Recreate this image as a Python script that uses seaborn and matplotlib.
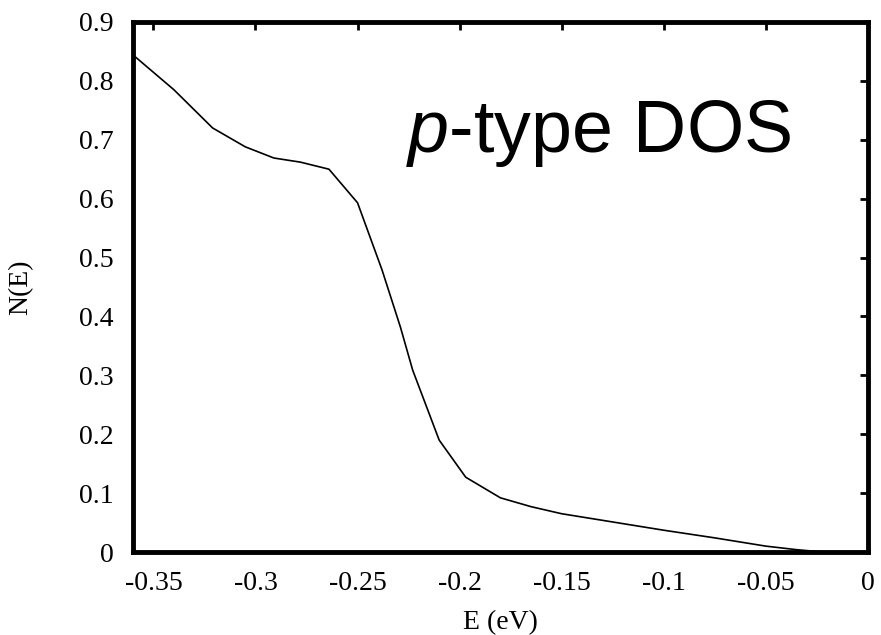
import numpy as np
import pandas as pd
import matplotlib
matplotlib.use("Agg")
import matplotlib.pyplot as plt
import seaborn as sns

# energy (eV) and density of states
energy = [-0.36, -0.340, -0.321, -0.305, -0.291, -0.278, -0.264, -0.250, -0.238,
          -0.229, -0.223, -0.210, -0.197, -0.180, -0.165, -0.150, -0.125,
          -0.100, -0.075, -0.050, -0.035, -0.022, 0.0]
dos = [0.844, 0.785, 0.720, 0.688, 0.669, 0.662, 0.650, 0.593, 0.479,
       0.382, 0.309, 0.190, 0.127, 0.092, 0.077, 0.065, 0.051,
       0.037, 0.024, 0.010, 0.004, 0.0, 0.0]

xticks = [-0.35, -0.3, -0.25, -0.2, -0.15, -0.1, -0.05, 0]
xticklabels = ["-0.35", "-0.3", "-0.25", "-0.2", "-0.15", "-0.1", "-0.05", "0"]
yticks = [0, 0.1, 0.2, 0.3, 0.4, 0.5, 0.6, 0.7, 0.8, 0.9]
yticklabels = ["0", "0.1", "0.2", "0.3", "0.4", "0.5", "0.6", "0.7", "0.8", "0.9"]

df = pd.DataFrame({"E": energy, "N": dos})

sns.set_style("white")
plt.rcParams["font.family"] = ["Liberation Serif", "DejaVu Serif"]
plt.rcParams["mathtext.fontset"] = "custom"
plt.rcParams["mathtext.it"] = "Liberation Sans:italic"
plt.rcParams["mathtext.rm"] = "Liberation Sans"
plt.rcParams["text.color"] = "black"

fig = plt.figure(figsize=(8.81, 6.35), dpi=100)
ax = fig.add_axes([0.151, 0.1307, 0.834, 0.8347])

sns.lineplot(data=df, x="E", y="N", color="black", linewidth=1.2, ax=ax)

ax.set_xlim(-0.36, 0)
ax.set_ylim(0, 0.9)
ax.set_xticks(xticks)
ax.set_xticklabels(xticklabels)
ax.set_yticks(yticks)
ax.set_yticklabels(yticklabels)
ax.tick_params(axis="both", direction="in", length=6, width=2, top=True, right=True,
               labelsize=20, color="black", labelcolor="black")
ax.tick_params(axis="x", pad=14)
ax.tick_params(axis="y", pad=14)
for s in ax.spines.values():
    s.set_linewidth(3.5)
    s.set_color("black")

ax.set_xlabel("E (eV)", fontsize=20, labelpad=10, color="black")
ax.set_ylabel("N(E)", fontsize=20, labelpad=33, color="black")

ax.text(0.371, 0.755, r"$p$-type DOS", transform=ax.transAxes, fontsize=53,
        family="Liberation Sans", va="baseline", ha="left", color="black")

fig.savefig("out.png", dpi=100)
